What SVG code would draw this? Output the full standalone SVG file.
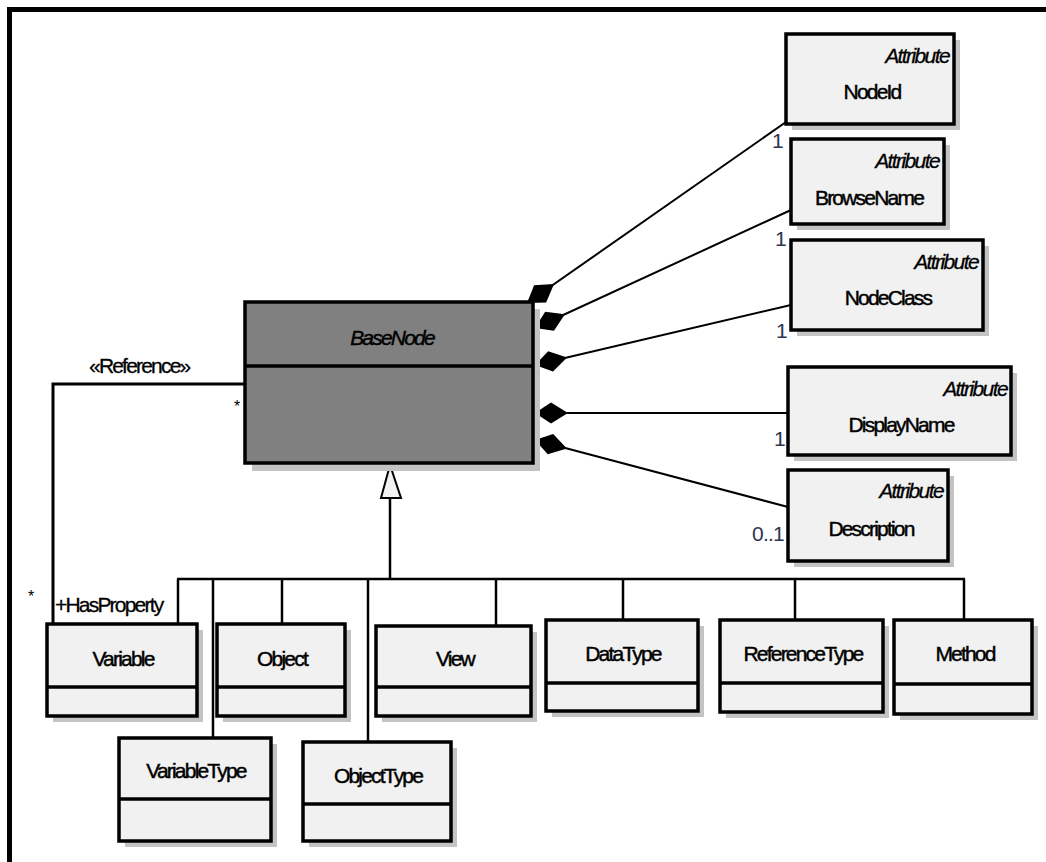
<svg xmlns="http://www.w3.org/2000/svg" width="1046" height="862" viewBox="0 0 1046 862">
  <style>
    text { font-family: "Liberation Sans", Arial, sans-serif; fill: #000; }
    .nm { font-size: 21px; letter-spacing: -1.8px; text-anchor: middle; stroke: #000; stroke-width: 0.45; }
    .st { font-size: 21px; font-style: italic; letter-spacing: -1.6px; text-anchor: end; stroke: #000; stroke-width: 0.3; }
    .mult { font-size: 21px; fill: #2b3550; }
    .lbl { font-size: 21px; letter-spacing: -1.8px; stroke: #000; stroke-width: 0.3; }
    .star { font-size: 16px; }
    .box { fill: #f1f1f1; stroke: #000; stroke-width: 3.5; }
    .shadow { fill: #c3c3c3; }
    .div { stroke: #000; stroke-width: 3.5; }
    .wire { stroke: #000; stroke-width: 2.5; fill: none; }
    .comp { stroke: #000; stroke-width: 2; fill: none; marker-start: url(#diamond); }
  </style>
  <defs>
    <marker id="diamond" markerUnits="userSpaceOnUse" markerWidth="40" markerHeight="28" refX="0" refY="14" orient="auto" viewBox="0 0 40 28">
      <path d="M0,14 L16,3.5 L33,14 L16,24.5 Z" fill="#000"/>
    </marker>
  </defs>

  <rect width="1046" height="862" fill="#fff"/>
  <!-- frame -->
  <path d="M9.5,862 V9.5 H1046" fill="none" stroke="#000" stroke-width="5"/>

  <!-- connectors -->
  <g id="connectors">
    <!-- compositions from BaseNode to attributes -->
    <line class="comp" x1="527" y1="303" x2="786" y2="122"/>
    <line class="comp" x1="535" y1="328" x2="791" y2="210"/>
    <line class="comp" x1="535" y1="365" x2="791" y2="305"/>
    <line class="comp" x1="535" y1="413" x2="788" y2="413"/>
    <line class="comp" x1="535" y1="440" x2="788" y2="507"/>
    <!-- HasProperty reference -->
    <path d="M245,384 H53 V623" fill="none" stroke="#000" stroke-width="3"/>
    <!-- generalization tree -->
    <line class="wire" x1="390" y1="498" x2="390" y2="579"/>
    <polygon points="390,465 381,498 401,498" fill="#f1f1f1" stroke="#000" stroke-width="2"/>
    <line class="wire" x1="177" y1="579" x2="965" y2="579"/>
    <line class="wire" x1="178" y1="579" x2="178" y2="624"/>
    <line class="wire" x1="213" y1="579" x2="213" y2="738"/>
    <line class="wire" x1="282" y1="579" x2="282" y2="624" stroke-width="3.5"/>
    <line class="wire" x1="368" y1="579" x2="368" y2="742" stroke-width="3.5"/>
    <line class="wire" x1="496" y1="579" x2="496" y2="626"/>
    <line class="wire" x1="623" y1="579" x2="623" y2="620"/>
    <line class="wire" x1="795" y1="579" x2="795" y2="620"/>
    <line class="wire" x1="964" y1="579" x2="964" y2="620"/>
    <!-- multiplicities and role names -->
    <text class="mult" x="772" y="148">1</text>
    <text class="mult" x="775" y="246">1</text>
    <text class="mult" x="776" y="338">1</text>
    <text class="mult" x="774" y="446">1</text>
    <text class="mult" x="752" y="541" letter-spacing="-0.8">0..1</text>
    <text class="lbl" x="89" y="373">«Reference»</text>
    <text class="star" x="234" y="412">*</text>
    <text class="star" x="28" y="602">*</text>
    <text class="lbl" x="55" y="612">+HasProperty</text>
  </g>

  <!-- BaseNode -->
  <g id="BaseNode">
    <rect x="252" y="309" width="288" height="162" fill="#c3c3c3"/>
    <rect x="245" y="302" width="288" height="161" fill="#808080" stroke="#000" stroke-width="3.5"/>
    <line class="div" x1="245" y1="366" x2="533" y2="366"/>
    <text class="nm" x="392" y="345" font-style="italic">BaseNode</text>
  </g>

  <!-- attributes -->
  <g id="NodeId">
    <rect class="shadow" x="792" y="40" width="168" height="90"/>
    <rect class="box" x="786" y="34" width="168" height="90"/>
    <text class="st" x="949" y="63">Attribute</text>
    <text class="nm" x="872" y="99">NodeId</text>
  </g>
  <g id="BrowseName">
    <rect class="shadow" x="797" y="145" width="153" height="85"/>
    <rect class="box" x="791" y="139" width="153" height="85"/>
    <text class="st" x="939" y="168">Attribute</text>
    <text class="nm" x="869" y="205">BrowseName</text>
  </g>
  <g id="NodeClass">
    <rect class="shadow" x="797" y="246" width="192" height="90"/>
    <rect class="box" x="791" y="240" width="192" height="90"/>
    <text class="st" x="978" y="269">Attribute</text>
    <text class="nm" x="888" y="305">NodeClass</text>
  </g>
  <g id="DisplayName">
    <rect class="shadow" x="794" y="373" width="223" height="88"/>
    <rect class="box" x="788" y="367" width="223" height="88"/>
    <text class="st" x="1007" y="396">Attribute</text>
    <text class="nm" x="901" y="432">DisplayName</text>
  </g>
  <g id="Description">
    <rect class="shadow" x="794" y="476" width="160" height="91"/>
    <rect class="box" x="788" y="470" width="160" height="91"/>
    <text class="st" x="943" y="498">Attribute</text>
    <text class="nm" x="871" y="536">Description</text>
  </g>

  <!-- subclasses -->
  <g id="Variable">
    <rect class="shadow" x="53" y="630" width="150" height="92"/>
    <rect class="box" x="47" y="624" width="150" height="92"/>
    <line class="div" x1="47" y1="687" x2="197" y2="687"/>
    <text class="nm" x="123" y="666">Variable</text>
  </g>
  <g id="Object">
    <rect class="shadow" x="223" y="630" width="128" height="92"/>
    <rect class="box" x="217" y="624" width="128" height="92"/>
    <line class="div" x1="217" y1="687" x2="345" y2="687"/>
    <text class="nm" x="282" y="666">Object</text>
  </g>
  <g id="View">
    <rect class="shadow" x="382" y="632" width="155" height="90"/>
    <rect class="box" x="376" y="626" width="155" height="90"/>
    <line class="div" x1="376" y1="687" x2="531" y2="687"/>
    <text class="nm" x="455" y="666">View</text>
  </g>
  <g id="DataType">
    <rect class="shadow" x="552" y="626" width="152" height="91"/>
    <rect class="box" x="546" y="620" width="152" height="91"/>
    <line class="div" x1="546" y1="683" x2="698" y2="683"/>
    <text class="nm" x="623" y="661">DataType</text>
  </g>
  <g id="ReferenceType">
    <rect class="shadow" x="726" y="626" width="163" height="92"/>
    <rect class="box" x="720" y="620" width="163" height="92"/>
    <line class="div" x1="720" y1="683" x2="883" y2="683"/>
    <text class="nm" x="803" y="661">ReferenceType</text>
  </g>
  <g id="Method">
    <rect class="shadow" x="900" y="626" width="138" height="94"/>
    <rect class="box" x="894" y="620" width="138" height="94"/>
    <line class="div" x1="894" y1="684" x2="1032" y2="684"/>
    <text class="nm" x="965" y="661">Method</text>
  </g>
  <g id="VariableType">
    <rect class="shadow" x="125" y="744" width="152" height="103"/>
    <rect class="box" x="119" y="738" width="152" height="103"/>
    <line class="div" x1="119" y1="799" x2="271" y2="799"/>
    <text class="nm" x="196" y="778">VariableType</text>
  </g>
  <g id="ObjectType">
    <rect class="shadow" x="309" y="748" width="148" height="99"/>
    <rect class="box" x="303" y="742" width="148" height="99"/>
    <line class="div" x1="303" y1="804" x2="451" y2="804"/>
    <text class="nm" x="378" y="783">ObjectType</text>
  </g>
</svg>
